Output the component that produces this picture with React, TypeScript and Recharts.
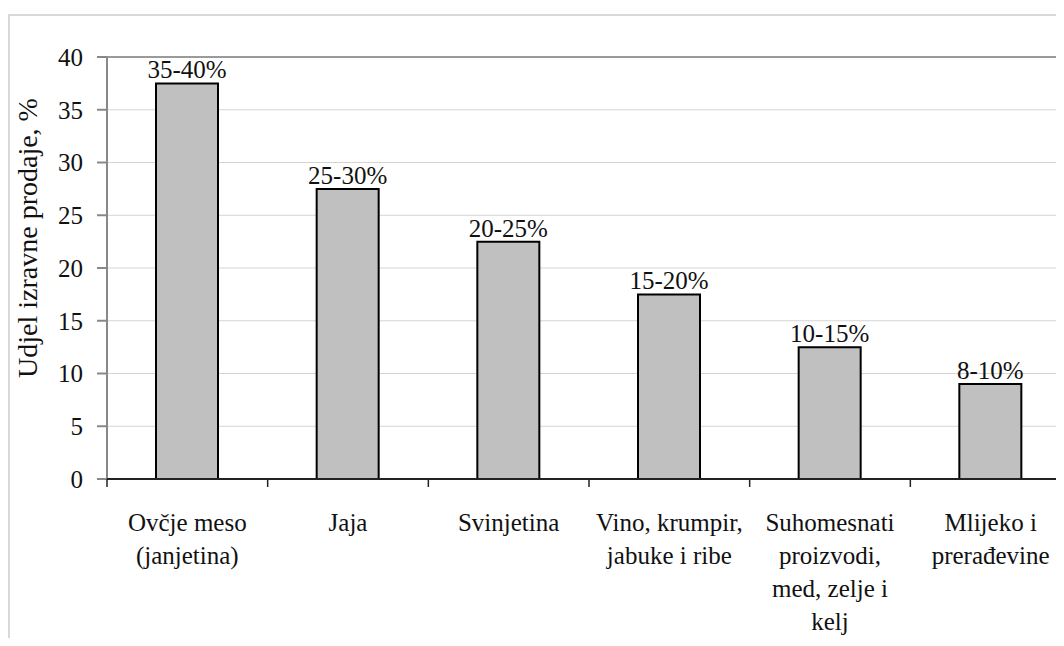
import { BarChart, Bar, XAxis, YAxis, CartesianGrid, LabelList, ReferenceLine } from 'recharts';

const categories: string[][] = [
  ['Ovčje meso', '(janjetina)'],
  ['Jaja'],
  ['Svinjetina'],
  ['Vino, krumpir,', 'jabuke i ribe'],
  ['Suhomesnati', 'proizvodi,', 'med, zelje i', 'kelj'],
  ['Mlijeko i', 'prerađevine'],
];
const shares = [37.5, 27.5, 22.5, 17.5, 12.5, 9];
const rangeLabels = ['35-40%', '25-30%', '20-25%', '15-20%', '10-15%', '8-10%'];
const yTicks = [0, 5, 10, 15, 20, 25, 30, 35, 40];

const data = categories.map((lines, i) => ({
  name: lines.join(' '),
  value: shares[i],
  label: rangeLabels[i],
}));

const FONT = "'Liberation Serif', 'Times New Roman', serif";
const txt = { fontFamily: FONT, fontSize: 25, fill: '#111' };

// multi-line category label + boundary tick mark at the left edge of each band
function CategoryTick(props: any) {
  const { x, y, payload, index } = props;
  const half = payload && typeof payload.offset === 'number' ? payload.offset : 0;
  const lines = categories[index] ?? [String(payload.value)];
  return (
    <g>
      <line x1={x - half} y1={y} x2={x - half} y2={y + 8} stroke="#222" strokeWidth={1.5} />
      <text x={x} y={y} textAnchor="middle" style={txt}>
        {lines.map((ln, i) => (
          <tspan key={i} x={x} y={y + 52 + i * 33}>
            {ln}
          </tspan>
        ))}
      </text>
    </g>
  );
}

function YLabel(props: any) {
  const { viewBox } = props;
  const cx = 17;
  const cy = viewBox.y + viewBox.height / 2 - 30;
  return (
    <text
      x={cx}
      y={cy}
      transform={`rotate(-90 ${cx} ${cy})`}
      textAnchor="middle"
      dominantBaseline="central"
      style={{ ...txt, fontSize: 28 }}
    >
      Udjel izravne prodaje, %
    </text>
  );
}

export default function App() {
  return (
    <div style={{ width: 1056, height: 630, overflow: 'hidden', background: '#fff' }}>
      <div
        style={{
          marginTop: 6,
          width: 1100,
          height: 700,
          borderTop: '2px solid #d9d9d9',
          borderLeft: '2px solid #d9d9d9',
        }}
      >
        <BarChart
          width={1080}
          height={622}
          data={data}
          margin={{ top: 41, right: 19, left: 0, bottom: 0 }}
          barSize={62}
        >
          <CartesianGrid vertical={false} stroke="#d4d4d4" strokeWidth={1} />
          <ReferenceLine y={40} stroke="#9a9a9a" strokeWidth={2} />
          <YAxis
            domain={[0, 40]}
            ticks={yTicks}
            width={97}
            tickSize={10}
            tickMargin={14}
            stroke="#888"
            strokeWidth={2}
            tick={txt}
            label={<YLabel />}
          />
          <XAxis
            dataKey="name"
            height={159}
            interval={0}
            tickLine={false}
            tickSize={0}
            tickMargin={0}
            stroke="#222"
            strokeWidth={2}
            tick={<CategoryTick />}
          />
          <Bar dataKey="value" fill="#c0c0c0" stroke="#000" strokeWidth={2} isAnimationActive={false}>
            <LabelList dataKey="label" position="top" offset={5} style={txt} />
          </Bar>
        </BarChart>
      </div>
    </div>
  );
}
